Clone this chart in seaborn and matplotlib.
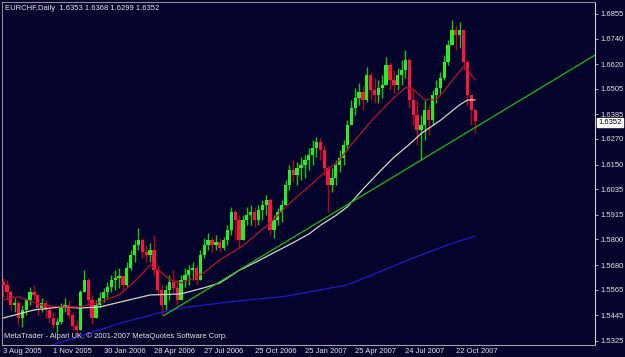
import numpy as np
import matplotlib
matplotlib.use("Agg")
import matplotlib.pyplot as plt
import seaborn as sns

# ---------------- data ----------------
symbol_title = "EURCHF,Daily  1.6353 1.6368 1.6299 1.6352"
footer_text = "MetaTrader - Alpari UK, \u00a9 2001-2007 MetaQuotes Software Corp."
last_price = 1.6352

date_labels = ["3 Aug 2005", "1 Nov 2005", "30 Jan 2006", "28 Apr 2006", "27 Jul 2006",
               "25 Oct 2006", "25 Jan 2007", "25 Apr 2007", "24 Jul 2007", "22 Oct 2007"]
date_weeks = [0, 13, 26, 39, 52, 65, 78, 91, 104, 117]

price_ticks = [1.5325, 1.5445, 1.5565, 1.5680, 1.5800, 1.5915, 1.6035,
               1.6150, 1.6270, 1.6385, 1.6505, 1.6620, 1.6740, 1.6855]

# weekly candles (index = week since 3 Aug 2005)
opens = [1.5601,1.5587,1.5554,1.5493,1.5502,1.5432,1.5470,1.5517,1.5554,1.5540,
         1.5479,1.5502,1.5470,1.5432,1.5400,1.5414,1.5479,1.5493,1.5446,1.5395,
         1.5376,1.5554,1.5610,1.5517,1.5432,1.5493,1.5526,1.5554,1.5577,1.5610,
         1.5619,1.5629,1.5587,1.5666,1.5727,1.5774,1.5797,1.5741,1.5727,1.5751,
         1.5657,1.5563,1.5493,1.5563,1.5601,1.5573,1.5517,1.5610,1.5634,1.5657,
         1.5666,1.5610,1.5727,1.5774,1.5797,1.5774,1.5788,1.5760,1.5797,1.5844,
         1.5928,1.5891,1.5797,1.5891,1.5914,1.5928,1.5891,1.5938,1.5961,1.5985,
         1.5844,1.5891,1.5928,1.5961,1.6055,1.6125,1.6102,1.6134,1.6148,1.6172,
         1.6195,1.6228,1.6256,1.6219,1.6134,1.6055,1.6087,1.6148,1.6181,1.6242,
         1.6336,1.6415,1.6462,1.6490,1.6453,1.6570,1.6499,1.6476,1.6509,1.6523,
         1.6616,1.6546,1.6523,1.6570,1.6593,1.6640,1.6453,1.6382,1.6312,1.6336,
         1.6406,1.6359,1.6476,1.6509,1.6555,1.6630,1.6710,1.6780,1.6757,1.6780,
         1.6630,1.6476,1.6406]
highs = [1.5619,1.5610,1.5563,1.5526,1.5517,1.5493,1.5526,1.5577,1.5587,1.5540,
         1.5526,1.5517,1.5493,1.5460,1.5432,1.5502,1.5526,1.5517,1.5460,1.5423,
         1.5563,1.5657,1.5619,1.5540,1.5517,1.5554,1.5573,1.5601,1.5634,1.5657,
         1.5666,1.5634,1.5694,1.5751,1.5797,1.5853,1.5807,1.5774,1.5783,1.5821,
         1.5680,1.5587,1.5587,1.5634,1.5657,1.5610,1.5634,1.5666,1.5680,1.5694,
         1.5680,1.5751,1.5807,1.5830,1.5811,1.5821,1.5807,1.5811,1.5868,1.5952,
         1.5938,1.5914,1.5914,1.5952,1.5961,1.5952,1.5961,1.5985,1.6008,1.5994,
         1.5914,1.5947,1.5985,1.6078,1.6148,1.6172,1.6162,1.6186,1.6195,1.6228,
         1.6265,1.6279,1.6275,1.6242,1.6148,1.6134,1.6172,1.6219,1.6265,1.6359,
         1.6453,1.6509,1.6532,1.6523,1.6607,1.6584,1.6555,1.6546,1.6570,1.6654,
         1.6630,1.6593,1.6602,1.6640,1.6687,1.6649,1.6509,1.6453,1.6382,1.6453,
         1.6429,1.6499,1.6546,1.6584,1.6663,1.6733,1.6827,1.6804,1.6818,1.6780,
         1.6640,1.6476,1.6406]
lows = [1.5531,1.5517,1.5470,1.5460,1.5400,1.5390,1.5446,1.5493,1.5517,1.5446,
        1.5460,1.5432,1.5414,1.5385,1.5362,1.5404,1.5460,1.5432,1.5376,1.5357,
        1.5376,1.5554,1.5493,1.5404,1.5432,1.5479,1.5507,1.5526,1.5554,1.5563,
        1.5573,1.5554,1.5577,1.5657,1.5694,1.5751,1.5713,1.5694,1.5694,1.5634,
        1.5540,1.5446,1.5470,1.5517,1.5554,1.5493,1.5517,1.5577,1.5587,1.5610,
        1.5587,1.5610,1.5713,1.5751,1.5741,1.5751,1.5741,1.5751,1.5774,1.5821,
        1.5797,1.5765,1.5797,1.5868,1.5868,1.5858,1.5868,1.5891,1.5914,1.5821,
        1.5807,1.5868,1.5882,1.5961,1.6031,1.6069,1.6055,1.6078,1.6087,1.6125,
        1.6148,1.6186,1.6172,1.6102,1.5928,1.6022,1.6055,1.6116,1.6148,1.6219,
        1.6336,1.6382,1.6429,1.6406,1.6443,1.6453,1.6438,1.6438,1.6462,1.6523,
        1.6499,1.6485,1.6499,1.6523,1.6555,1.6415,1.6336,1.6242,1.6172,1.6265,
        1.6289,1.6336,1.6438,1.6476,1.6546,1.6616,1.6710,1.6687,1.6696,1.6593,
        1.6429,1.6336,1.6299]
closes = [1.5587,1.5554,1.5493,1.5502,1.5432,1.5470,1.5517,1.5554,1.5540,1.5479,
          1.5502,1.5470,1.5432,1.5400,1.5414,1.5479,1.5493,1.5446,1.5395,1.5376,
          1.5554,1.5610,1.5517,1.5432,1.5493,1.5526,1.5554,1.5577,1.5610,1.5619,
          1.5629,1.5587,1.5666,1.5727,1.5774,1.5797,1.5741,1.5727,1.5751,1.5657,
          1.5563,1.5493,1.5563,1.5601,1.5573,1.5517,1.5610,1.5634,1.5657,1.5666,
          1.5610,1.5727,1.5774,1.5797,1.5774,1.5788,1.5760,1.5797,1.5844,1.5928,
          1.5891,1.5797,1.5891,1.5914,1.5928,1.5891,1.5938,1.5961,1.5985,1.5844,
          1.5891,1.5928,1.5961,1.6055,1.6125,1.6102,1.6134,1.6148,1.6172,1.6195,
          1.6228,1.6256,1.6219,1.6134,1.6055,1.6087,1.6148,1.6181,1.6242,1.6336,
          1.6415,1.6462,1.6490,1.6453,1.6570,1.6499,1.6476,1.6509,1.6523,1.6616,
          1.6546,1.6523,1.6570,1.6593,1.6640,1.6453,1.6382,1.6312,1.6336,1.6406,
          1.6359,1.6476,1.6509,1.6555,1.6630,1.6710,1.6780,1.6757,1.6780,1.6630,
          1.6476,1.6406,1.6352]

# moving averages
red_ma_weeks = [0, 4, 10, 15, 20, 25, 30, 35, 38, 41, 43, 46, 48, 52, 56, 62, 69, 74,
                80, 84, 87, 90, 96, 101, 104, 106, 109, 112, 114, 117, 119, 120, 122]
red_ma_values = [1.5517, 1.5531, 1.5493, 1.5484, 1.5484, 1.5507, 1.5540, 1.5620, 1.5680,
                 1.5645, 1.5612, 1.5597, 1.5608, 1.5645, 1.5704, 1.5770, 1.5877, 1.5968,
                 1.6063, 1.6128, 1.6172, 1.6245, 1.6371, 1.6463, 1.6511, 1.6502, 1.6453,
                 1.6455, 1.6496, 1.6565, 1.6607, 1.6595, 1.6546]
white_ma_weeks = [0, 8, 15, 20, 25, 31, 38, 46, 52, 56, 61, 66, 70, 75, 79, 82, 86, 89,
                  93, 95, 98, 101, 105, 108, 113, 118, 120, 122]
white_ma_values = [1.5432, 1.5470, 1.5484, 1.5479, 1.5484, 1.5510, 1.5540, 1.5545, 1.5574,
                   1.5596, 1.5655, 1.5700, 1.5738, 1.5785, 1.5825, 1.5866, 1.5912, 1.5953,
                   1.6035, 1.6073, 1.6130, 1.6184, 1.6245, 1.6295, 1.6357, 1.6430, 1.6452,
                   1.6453]
blue_ma_weeks = [12, 22, 31, 35, 41, 47, 56, 61, 73, 89, 97, 106, 115, 122]
blue_ma_values = [1.5302, 1.5360, 1.5412, 1.5430, 1.5459, 1.5482, 1.5502, 1.5512, 1.5534,
                  1.5587, 1.5646, 1.5713, 1.5775, 1.5816]

trend_weeks = [41.4, 153.0]
trend_prices = [1.5442, 1.6663]

# ---------------- style ----------------
BG = "#03032b"
TXT = "#e6e6e6"
FS = 5.5
sns.set_style("dark")
plt.rcParams["font.family"] = ["Liberation Sans", "DejaVu Sans"]

fig = plt.figure(figsize=(6.25, 3.57), dpi=100, facecolor=BG)
ax = fig.add_axes([2 / 625, 12 / 357, 593 / 625, 343 / 357])
ax.set_facecolor(BG)

o = np.array(opens); h = np.array(highs); l = np.array(lows); c = np.array(closes)
weeks = np.arange(len(c))
up = c >= o

# candles
ax.vlines(weeks[up], l[up], h[up], color="#10c810", linewidth=1.0, zorder=2)
ax.vlines(weeks[~up], l[~up], h[~up], color="#c00018", linewidth=1.0, zorder=2)
body_bottom = np.minimum(o, c)
body_height = np.maximum(np.abs(c - o), 0.0003)
colors = np.where(up, "#22f022", "#ff1440")
ax.bar(weeks, body_height, bottom=body_bottom, width=0.85, color=colors,
       linewidth=0, zorder=3)

# moving averages and trend line
sns.lineplot(x=blue_ma_weeks, y=blue_ma_values, ax=ax, color="#1c1ccc",
             linewidth=0.9, legend=False, zorder=4)
sns.lineplot(x=white_ma_weeks, y=white_ma_values, ax=ax, color="#d8d2c4",
             linewidth=0.9, legend=False, zorder=4)
sns.lineplot(x=red_ma_weeks, y=red_ma_values, ax=ax, color="#b8102a",
             linewidth=0.9, legend=False, zorder=4)
sns.lineplot(x=trend_weeks, y=trend_prices, ax=ax, color="#10c010",
             linewidth=0.9, legend=False, zorder=4)

ax.set_xlim(-0.26, 152.97)
ax.set_ylim(1.53059, 1.69111)

# axes
ax.yaxis.tick_right()
ax.set_yticks(price_ticks)
ax.set_yticklabels([f"{v:.4f}" for v in price_ticks])
ax.set_xticks(date_weeks)
ax.set_xticklabels(date_labels, ha="left")
ax.tick_params(axis="y", colors="#c8c8c8", labelcolor=TXT, labelsize=FS,
               length=2.5, width=0.6, pad=1.5)
ax.tick_params(axis="x", colors="#c8c8c8", labelcolor=TXT, labelsize=FS,
               length=2, width=0.6, pad=0.5)
ax.set_xlabel(""); ax.set_ylabel("")
ax.grid(False)
for side, col in [("right", "#d0d0d0"), ("bottom", "#a0a0a0"), ("top", "#909090"), ("left", "#909090")]:
    ax.spines[side].set_visible(True)
    ax.spines[side].set_color(col)
    ax.spines[side].set_linewidth(0.8)

# last price box
ax.annotate(f"{last_price:.4f}", xy=(1.0, last_price), xycoords=("axes fraction", "data"),
            xytext=(2.5, -0.8), textcoords="offset points", ha="left", va="center",
            fontsize=FS, color="black",
            bbox=dict(boxstyle="square,pad=0.15", fc="white", ec="white"))

fig.text(5 / 625, 1 - 9 / 357, symbol_title, color=TXT, fontsize=FS, ha="left", va="center")
fig.text(4 / 625, 1 - 336 / 357, footer_text, color=TXT, fontsize=FS, ha="left", va="center")

fig.savefig("out.png", dpi=100, facecolor=BG)
